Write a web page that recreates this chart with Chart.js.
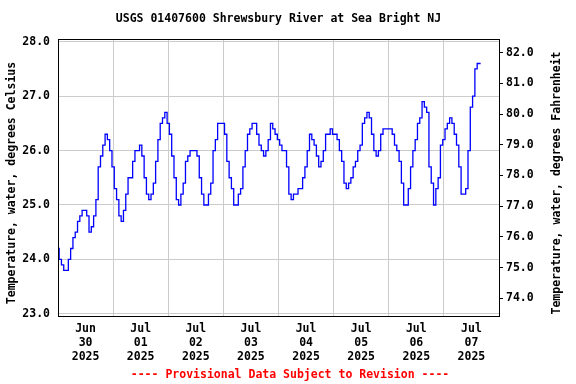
<!DOCTYPE html>
<html>
<head>
<meta charset="utf-8">
<script src="https://cdn.jsdelivr.net/npm/chart.js@4.4.1/dist/chart.umd.min.js"></script>
<style>
  html, body { margin: 0; padding: 0; background: #fff; }
  #wrap { width: 576px; height: 384px; }
</style>
</head>
<body>
<div id="wrap"><canvas id="chart" width="576" height="384"></canvas></div>
<script>
// Texts
const chartTitle = 'USGS 01407600 Shrewsbury River at Sea Bright NJ';
const leftTitle = 'Temperature, water, degrees Celsius';
const rightTitle = 'Temperature, water, degrees Fahrenheit';
const noteText = '---- Provisional Data Subject to Revision ----';

// Day labels (shown at noon of each day)
const dayLabels = [
    ['Jun', '30', '2025'],
    ['Jul', '01', '2025'],
    ['Jul', '02', '2025'],
    ['Jul', '03', '2025'],
    ['Jul', '04', '2025'],
    ['Jul', '05', '2025'],
    ['Jul', '06', '2025'],
    ['Jul', '07', '2025']
];

// Tick values
const celsiusTicks = [23, 24, 25, 26, 27, 28];
const fahrenheitTicks = [74, 75, 76, 77, 78, 79, 80, 81, 82];

// Hourly water temperature, degrees C (hour 0 = midnight)
const jun30 = [24.2, 24.0, 23.9, 23.8, 23.8, 24.0, 24.2, 24.4, 24.5, 24.7, 24.8, 24.9,
               24.9, 24.8, 24.5, 24.6, 24.8, 25.1, 25.7, 25.9, 26.1, 26.3, 26.2, 26.0];
const jul01 = [25.7, 25.3, 25.1, 24.8, 24.7, 24.9, 25.2, 25.5, 25.5, 25.8, 26.0, 26.0,
               26.1, 25.9, 25.5, 25.2, 25.1, 25.2, 25.4, 25.8, 26.2, 26.5, 26.6, 26.7];
const jul02 = [26.5, 26.3, 25.9, 25.5, 25.1, 25.0, 25.2, 25.4, 25.8, 25.9, 26.0, 26.0,
               26.0, 25.9, 25.5, 25.2, 25.0, 25.0, 25.2, 25.4, 26.0, 26.2, 26.5, 26.5];
const jul03 = [26.5, 26.3, 25.8, 25.5, 25.3, 25.0, 25.0, 25.2, 25.3, 25.7, 26.0, 26.3,
               26.4, 26.5, 26.5, 26.3, 26.1, 26.0, 25.9, 26.0, 26.2, 26.5, 26.4, 26.3];
const jul04 = [26.2, 26.1, 26.0, 26.0, 25.7, 25.2, 25.1, 25.2, 25.2, 25.3, 25.3, 25.5,
               25.7, 26.0, 26.3, 26.2, 26.1, 25.9, 25.7, 25.8, 26.0, 26.3, 26.3, 26.4];
const jul05 = [26.3, 26.3, 26.2, 26.0, 25.8, 25.4, 25.3, 25.4, 25.5, 25.7, 25.8, 26.0,
               26.1, 26.5, 26.6, 26.7, 26.6, 26.3, 26.0, 25.9, 26.0, 26.3, 26.4, 26.4];
const jul06 = [26.4, 26.4, 26.3, 26.1, 26.0, 25.8, 25.4, 25.0, 25.0, 25.3, 25.7, 26.0,
               26.2, 26.5, 26.6, 26.9, 26.8, 26.7, 25.7, 25.4, 25.0, 25.3, 25.5, 26.1];
const jul07 = [26.2, 26.4, 26.5, 26.6, 26.5, 26.3, 26.1, 25.7, 25.2, 25.2, 25.3, 26.0,
               26.8, 27.0, 27.5, 27.6, 27.6];

const tempC = [...jun30, ...jul01, ...jul02, ...jul03, ...jul04, ...jul05, ...jul06, ...jul07];

const FONT = 'DejaVu Sans Mono';

// Extra text and frame
const textPlugin = {
    id: 'usgsText',
    afterDraw(chart) {
        const ctx = chart.ctx;
        const area = chart.chartArea;
        ctx.save();

        // frame
        ctx.strokeStyle = '#000';
        ctx.lineWidth = 1;
        ctx.strokeRect(area.left + 0.5, area.top + 0.5, area.right - area.left, area.bottom - area.top);

        ctx.font = 'bold 11.5px "' + FONT + '"';
        ctx.textAlign = 'center';
        ctx.textBaseline = 'middle';
        ctx.fillStyle = '#000';
        ctx.fillText(chartTitle, (area.left + area.right) / 2, 19);

        ctx.fillStyle = '#ff0000';
        ctx.fillText(noteText, 290, 375);

        ctx.fillStyle = '#000';
        const midY = 183;
        ctx.save();
        ctx.translate(12, midY);
        ctx.rotate(-Math.PI / 2);
        ctx.fillText(leftTitle, 0, 0);
        ctx.restore();

        ctx.save();
        ctx.translate(557, midY);
        ctx.rotate(-Math.PI / 2);
        ctx.fillText(rightTitle, 0, 0);
        ctx.restore();

        ctx.restore();
    }
};

function initChart() {
    const tickFont = { family: FONT, size: 11.5, weight: 'bold', lineHeight: '14px' };
    const ctx = document.getElementById('chart').getContext('2d');

    new Chart(ctx, {
        type: 'line',
        data: {
            datasets: [{
                data: tempC.map((v, i) => ({ x: i, y: v })),
                borderColor: '#0000ff',
                borderWidth: 1.3,
                pointRadius: 0,
                stepped: 'middle',
                fill: false
            }]
        },
        options: {
            responsive: false,
            animation: false,
            devicePixelRatio: 1,
            layout: { padding: { top: 39, left: 0, right: 0, bottom: 0 } },
            plugins: {
                legend: { display: false },
                tooltip: { enabled: false },
                title: { display: false }
            },
            scales: {
                x: {
                    type: 'linear',
                    min: 0,
                    max: dayLabels.length * 24,
                    afterBuildTicks: axis => {
                        const ticks = [];
                        for (let h = 0; h <= dayLabels.length * 24; h += 12) ticks.push({ value: h });
                        axis.ticks = ticks;
                    },
                    afterFit: axis => { axis.height = 68; },
                    grid: {
                        color: c => (c.tick && c.tick.value % 24 === 0) ? '#cccccc' : 'rgba(0,0,0,0)',
                        drawTicks: false
                    },
                    border: { display: true, color: '#000' },
                    ticks: {
                        autoSkip: false,
                        maxRotation: 0,
                        padding: 6,
                        color: '#000',
                        font: tickFont,
                        callback: value => value % 24 === 12 ? dayLabels[(value - 12) / 24] : ''
                    }
                },
                y: {
                    position: 'left',
                    min: 22.96,
                    max: 28.05,
                    afterBuildTicks: axis => { axis.ticks = celsiusTicks.map(v => ({ value: v })); },
                    afterFit: axis => { axis.width = 58; },
                    grid: { color: '#cccccc', drawTicks: false },
                    border: { display: true, color: '#000' },
                    ticks: {
                        padding: 8,
                        color: '#000',
                        font: tickFont,
                        callback: value => value.toFixed(1)
                    }
                },
                yF: {
                    position: 'right',
                    min: 73.42,
                    max: 82.45,
                    afterBuildTicks: axis => { axis.ticks = fahrenheitTicks.map(v => ({ value: v })); },
                    afterFit: axis => { axis.width = 77; },
                    grid: { drawOnChartArea: false, color: '#000', tickLength: 4 },
                    border: { display: true, color: '#000' },
                    ticks: {
                        padding: 3,
                        color: '#000',
                        font: tickFont,
                        callback: value => value.toFixed(1)
                    }
                }
            }
        },
        plugins: [textPlugin]
    });
}

document.addEventListener('DOMContentLoaded', initChart);
</script>
</body>
</html>
